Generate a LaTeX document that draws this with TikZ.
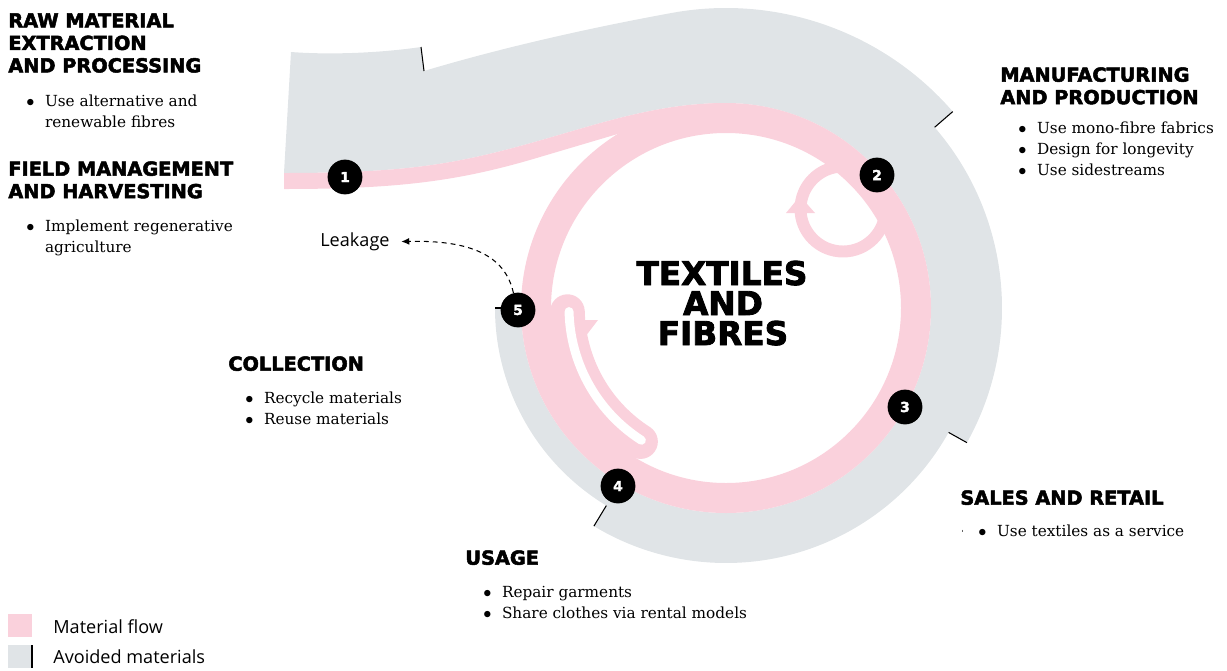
\documentclass[tikz,border=0pt]{standalone}
\usepackage{fontspec}
\setmainfont{DejaVu Serif}
\newfontfamily\headfont[BoldFeatures={FakeBold=2.6}]{DejaVu Sans}
\newfontfamily\labelfont{Open Sans}
\usepackage{xcolor}
\definecolor{cPink}{HTML}{FAD1DC}
\definecolor{cGrey}{HTML}{E0E4E7}
\usetikzlibrary{arrows.meta, calc}
\newcommand{\items}[1]{\begin{tabular}[t]{@{}l@{\hspace{6pt}}l@{}}#1\end{tabular}}
\newcommand{\dotmark}{$\bullet$}
\tikzset{
  head/.style     = {anchor=north west, inner sep=0pt, align=left,
                     font=\headfont\bfseries\fontsize{11}{12.8}\selectfont},
  bul/.style      = {anchor=base west, inner sep=0pt,
                     font=\fontsize{8.7}{12.2}\selectfont},
  hub/.style      = {anchor=base, inner sep=0pt,
                     font=\headfont\bfseries\fontsize{18.6}{17}\selectfont},
  num/.style      = {circle, fill=black, text=white, inner sep=0pt,
                     minimum size=19.8pt,
                     font=\headfont\bfseries\fontsize{7.8}{8}\selectfont},
  lbl/.style      = {anchor=base west, inner sep=0pt,
                     font=\labelfont\fontsize{10.3}{12}\selectfont},
  stepmark/.style = {line width=0.6pt, black},
  leakarr/.style  = {line width=0.6pt, dash pattern=on 2.8pt off 2.3pt,
                     -{Latex[length=4.5pt,width=4pt]}, shorten >=6.5pt},
}
\begin{document}
\begin{tikzpicture}[x=0.02cm, y=-0.02cm]
  \useasboundingbox (0,0) rectangle (1227,670);
  \coordinate (C) at (726,308);

  %% Avoided materials band
  \fill[cGrey] (284,173) -- (291,52)
    .. controls (330,55) and (380,53) .. (421,47) -- (424,71)
    .. controls (504,47) and (594,27) .. ($(C)+(-100:300)$)
    arc[start angle=-100, end angle=-40.9, radius=300]
    -- ($(C)+(-40.9:276)$)
    arc[start angle=-40.9, end angle=29.2, radius=276]
    -- ($(C)+(29.2:255)$)
    arc[start angle=29.2, end angle=121.2, radius=255]
    -- ($(C)+(121.2:231)$)
    arc[start angle=121.2, end angle=180, radius=231]
    -- ($(C)+(180:205)$)
    arc[start angle=180, end angle=-91.4, radius=205]
    .. controls (650,104) and (590,127) .. (520,146)
    .. controls (450,165) and (400,173) .. (284,173) -- cycle;

  %% Material flow
  \fill[cPink, even odd rule] (C) circle[radius=205] (C) circle[radius=175];
  \fill[cPink] (284,173) .. controls (400,173) and (450,165) .. (520,146)
    .. controls (590,127) and (650,104) .. ($(C)+(-91.4:205)$)
    -- ($(C)+(-121.9:205)$) -- (540,157)
    .. controls (460,181) and (400,189) .. (284,189) -- cycle;

  %% Loops
  \draw[cPink, line width=6.8pt] (843,209) circle[radius=42.5];
  \fill[cPink] (786,213) -- (815,213) -- (800,196) -- cycle;
  \draw[cPink, line width=19.7pt, line cap=round] ($(C)+(178.7:158.6)$)
    arc[start angle=178.7, end angle=122.6, radius=158.6];
  \fill[cPink] (572,320) -- (598,320) -- (585,337) -- cycle;
  \draw[white, line width=5.1pt, line cap=round] ($(C)+(178.7:157)$)
    arc[start angle=178.7, end angle=122.6, radius=157];

  %% Stage marks
  \draw[stepmark] (421,47) -- (424,71);
  \draw[stepmark] ($(C)+(-40.9:276)$) -- ($(C)+(-40.9:300)$);
  \draw[stepmark] ($(C)+(29.2:255)$) -- ($(C)+(29.2:276)$);
  \draw[stepmark] ($(C)+(121.2:231)$) -- ($(C)+(121.2:255)$);
  \draw[stepmark] ($(C)+(180:205)$) -- ($(C)+(180:231)$);

  \node[num] (n1) at (345,177) {1};
  \node[num] (n2) at (877,175) {2};
  \node[num] (n3) at (905,407) {3};
  \node[num] (n4) at (618,486) {4};
  \node[num] (n5) at (518,310) {5};

  \node[hub] (hub1) at (722,285) {TEXTILES};
  \node[hub] (hub2) at (723,315) {AND};
  \node[hub] (hub3) at (723,345) {FIBRES};

  %% Stage texts
  \node[head] (raw) at (8,13) {RAW MATERIAL\\EXTRACTION\\AND PROCESSING};
  \node[bul] (rawi) at (26,106)
        {\items{\dotmark & Use alternative and\\ & renewable fibres}};
  \node[head] (field) at (8,161) {FIELD MANAGEMENT\\AND HARVESTING};
  \node[bul] (fieldi) at (26,231)
        {\items{\dotmark & Implement regenerative\\ & agriculture}};
  \node[head] (manu) at (1000,67) {MANUFACTURING\\AND PRODUCTION};
  \node[bul] (manui) at (1018,133)
        {\items{\dotmark & Use mono-fibre fabrics\\
                \dotmark & Design for longevity\\
                \dotmark & Use sidestreams}};
  \node[head] (sales) at (960,490) {SALES AND RETAIL};
  \node[bul] (salesi) at (978,536)
        {\items{\dotmark & Use textiles as a service}};
  \draw[line width=0.4pt, black!60] (962,529.5) -- (962,532);
  \node[head] (coll) at (228,356) {COLLECTION};
  \node[bul] (colli) at (245,403)
        {\items{\dotmark & Recycle materials\\
                \dotmark & Reuse materials}};
  \node[head] (usage) at (465,550) {USAGE};
  \node[bul] (usagei) at (483,597)
        {\items{\dotmark & Repair garments\\
                \dotmark & Share clothes via rental models}};

  \node[lbl] (leak) at (320,246.5) {Leakage};
  \draw[leakarr] (n5.105) .. controls (505,255) and (470,240) .. (leak.east);

  %% Legend
  \fill[cPink] (8,614) rectangle (32,637);
  \fill[cGrey] (8,645) rectangle (32,668);
  \draw[line width=1.1pt] (32,645) -- (32,668);
  \node[lbl] (lflow) at (53,633) {Material flow};
  \node[lbl] (lavoid) at (53,663) {Avoided materials};
\end{tikzpicture}
\end{document}
